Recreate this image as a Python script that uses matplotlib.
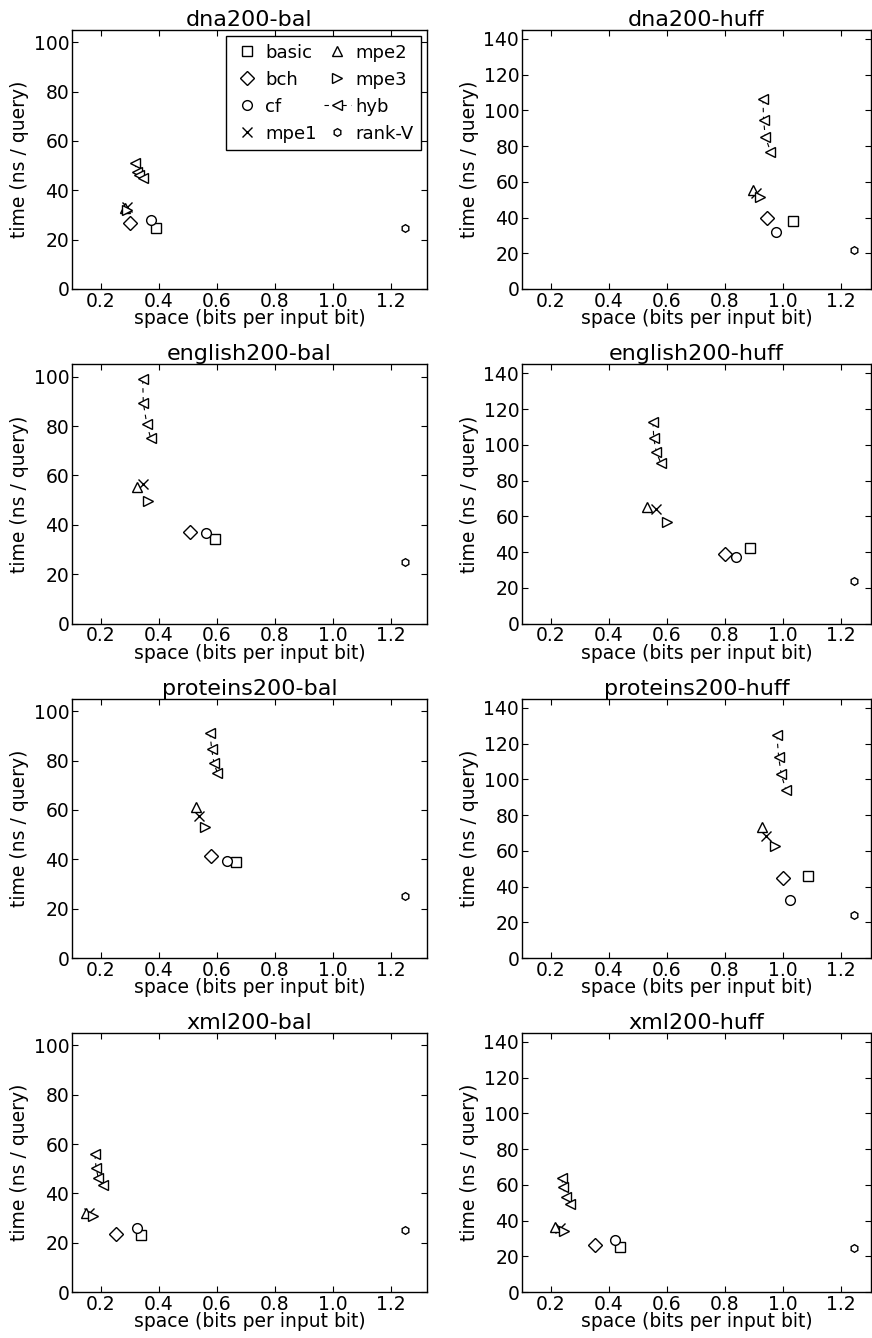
import matplotlib
matplotlib.use("Agg")
import matplotlib.pyplot as plt

# ---- data ----
titles = ["dna200-bal", "dna200-huff", "english200-bal", "english200-huff",
          "proteins200-bal", "proteins200-huff", "xml200-bal", "xml200-huff"]

basic_x = [0.39, 1.034, 0.595, 0.887, 0.666, 1.086, 0.338, 0.438]
basic_y = [24.7, 38.1, 34.3, 42.5, 38.9, 46.1, 23.1, 25.2]
bch_x = [0.30, 0.946, 0.507, 0.80, 0.579, 1.0, 0.252, 0.352]
bch_y = [26.6, 39.6, 37.2, 39.0, 41.3, 45.0, 23.5, 26.3]
cf_x = [0.371, 0.977, 0.564, 0.838, 0.634, 1.027, 0.324, 0.421]
cf_y = [28.0, 31.7, 36.8, 37.2, 39.3, 32.5, 25.9, 29.1]
mpe1_x = [0.289, 0.909, 0.346, 0.563, 0.539, 0.942, 0.160, 0.231]
mpe1_y = [33.4, 53.6, 56.5, 64.1, 57.6, 68.5, 31.9, 35.8]
mpe2_x = [0.283, 0.898, 0.323, 0.532, 0.527, 0.927, 0.148, 0.214]
mpe2_y = [32.8, 55.4, 55.5, 65.0, 61.1, 73.2, 31.9, 36.4]
mpe3_x = [0.290, 0.923, 0.363, 0.599, 0.559, 0.972, 0.173, 0.245]
mpe3_y = [32.0, 51.7, 49.8, 56.6, 53.0, 62.9, 30.9, 34.2]
hyb_x = [[0.317, 0.323, 0.332, 0.344],
         [0.932, 0.934, 0.940, 0.958],
         [0.344, 0.346, 0.358, 0.371],
         [0.552, 0.555, 0.564, 0.580],
         [0.576, 0.582, 0.590, 0.602],
         [0.980, 0.986, 0.995, 1.011],
         [0.179, 0.183, 0.191, 0.206],
         [0.237, 0.242, 0.251, 0.266]]
hyb_y = [[51.2, 47.6, 46.2, 44.9],
         [106.4, 94.6, 85.3, 76.9],
         [99.0, 89.5, 80.9, 75.3],
         [112.8, 103.6, 95.8, 89.6],
         [91.3, 84.6, 78.9, 74.9],
         [124.9, 112.7, 102.9, 94.1],
         [55.8, 50.4, 46.1, 43.4],
         [63.7, 59.0, 53.4, 49.3]]
rankv_x = [1.248, 1.245, 1.248, 1.245, 1.248, 1.245, 1.248, 1.245]
rankv_y = [24.7, 21.8, 24.9, 24.0, 25.1, 24.1, 25.1, 24.6]

xticks = [0.2, 0.4, 0.6, 0.8, 1.0, 1.2]
left_yticks = [0, 20, 40, 60, 80, 100]
right_yticks = [0, 20, 40, 60, 80, 100, 120, 140]

W, H = 872, 1338
fig = plt.figure(figsize=(W / 100, H / 100), dpi=100)
plt.rcParams['font.family'] = ['DejaVu Sans']

row_bottoms = [289, 623.5, 958, 1292]
ax_h = 259
col_left = [72, 522]
col_w = [355, 349]

mk = dict(mfc='white', mec='black', color='black', linestyle='none', markersize=7,
          markeredgewidth=1.0)

FS = 13.5

for i, title in enumerate(titles):
    r, c = divmod(i, 2)
    x0 = col_left[c] / W
    y0 = 1 - row_bottoms[r] / H
    ax = fig.add_axes([x0, y0, col_w[c] / W, ax_h / H])
    ax.plot([basic_x[i]], [basic_y[i]], marker='s', label='basic', **mk)
    ax.plot([bch_x[i]], [bch_y[i]], marker='D', label='bch', **mk)
    ax.plot([cf_x[i]], [cf_y[i]], marker='o', label='cf', **mk)
    ax.plot([mpe1_x[i]], [mpe1_y[i]], marker='x', label='mpe1', **mk)
    ax.plot([mpe2_x[i]], [mpe2_y[i]], marker='^', label='mpe2', **mk)
    ax.plot([mpe3_x[i]], [mpe3_y[i]], marker='>', label='mpe3', **mk)
    ax.plot(hyb_x[i], hyb_y[i], marker='<', linestyle='--', color='black',
            mfc='white', mec='black', markersize=7, linewidth=0.8, label='hyb',
            dashes=(4, 4))
    ax.plot([rankv_x[i]], [rankv_y[i]], marker='h', label='rank-V',
            **{**mk, 'markersize': 5.5})

    ax.set_xlim(0.1, 1.325 if c == 0 else 1.305)
    if c == 0:
        ax.set_ylim(0, 105)
        ax.set_yticks(left_yticks)
    else:
        ax.set_ylim(0, 145)
        ax.set_yticks(right_yticks)
    ax.set_xticks(xticks)
    ax.set_xticklabels(["%.1f" % v for v in xticks])
    ax.tick_params(direction='in', top=True, right=True, length=4, labelsize=FS,
                   pad=2)
    ax.set_title(title, fontsize=16, pad=3)
    ax.set_xlabel('space (bits per input bit)', fontsize=FS, labelpad=-1)
    ax.set_ylabel('time (ns / query)', fontsize=FS, labelpad=3)
    for s in ax.spines.values():
        s.set_color('black')
        s.set_linewidth(1.0)
    if i == 0:
        leg = ax.legend(ncol=2, loc='upper right', fontsize=13, numpoints=1,
                        fancybox=False, framealpha=1, edgecolor='black',
                        handlelength=1.5, handletextpad=0.25, columnspacing=0.4,
                        borderaxespad=0.35, labelspacing=0.5, borderpad=0.4)
        leg.get_frame().set_linewidth(1.0)

fig.savefig('out.png', dpi=100)
